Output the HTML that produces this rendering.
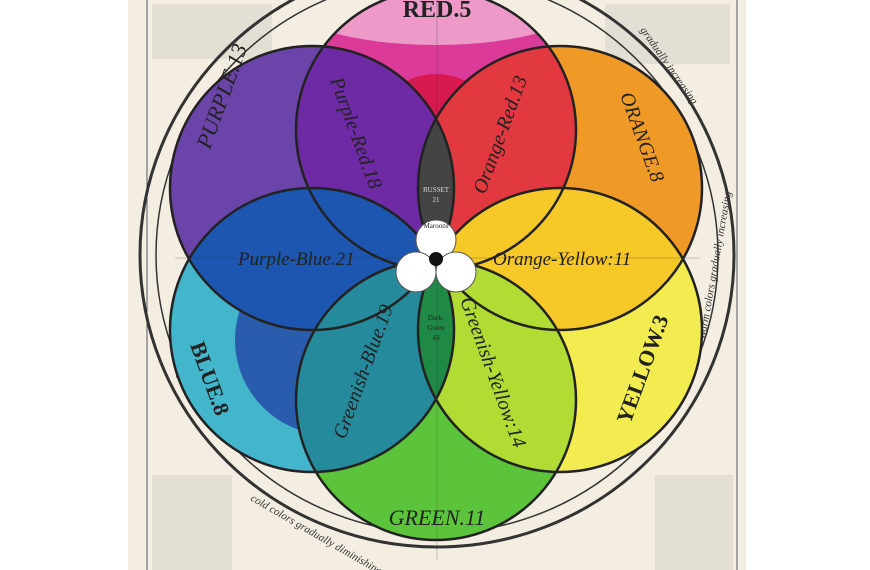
<!DOCTYPE html>
<html><head><meta charset="utf-8"><style>
html,body{margin:0;padding:0;background:#fff;}
svg{display:block}
text{font-family:"Liberation Serif",serif;}
</style></head><body>
<svg width="870" height="570" viewBox="0 0 870 570" xmlns="http://www.w3.org/2000/svg">
<defs>
<clipPath id="cR"><circle cx="436" cy="130" r="140"/></clipPath>
<clipPath id="cP"><circle cx="312" cy="188" r="142"/></clipPath>
<clipPath id="cO"><circle cx="560" cy="188" r="142"/></clipPath>
<clipPath id="cB"><circle cx="312" cy="330" r="142"/></clipPath>
<clipPath id="cY"><circle cx="560" cy="330" r="142"/></clipPath>
<clipPath id="cG"><circle cx="436" cy="400" r="140"/></clipPath>
</defs>
<rect x="128" y="0" width="618" height="570" fill="#f4eee2"/>
<line x1="147" y1="0" x2="147" y2="570" stroke="#556" stroke-width="1"/>
<line x1="737" y1="0" x2="737" y2="570" stroke="#556" stroke-width="1"/>
<g fill="#999">
<rect x="152" y="4" width="120" height="55" opacity="0.18"/>
<rect x="605" y="4" width="125" height="60" opacity="0.18"/>
<rect x="152" y="475" width="80" height="95" opacity="0.18"/>
<rect x="655" y="475" width="78" height="95" opacity="0.18"/>
</g>
<ellipse cx="437" cy="255" rx="297" ry="292" fill="none" stroke="#333" stroke-width="3"/>
<ellipse cx="437" cy="255" rx="281" ry="278" fill="none" stroke="#333" stroke-width="1.5"/>
<text x="180" y="380" font-size="11" font-style="italic" fill="#333" transform="rotate(-70 180 380)">cold colors gradually diminishing</text>
<text x="250" y="500" font-size="11" font-style="italic" fill="#333" transform="rotate(30 250 500)">cold colors gradually diminishing</text>
<text x="640" y="30" font-size="11" font-style="italic" fill="#333" transform="rotate(55 640 30)">gradually increasing</text>
<text x="705" y="340" font-size="11" font-style="italic" fill="#333" transform="rotate(-80 705 340)">Warm colors gradually increasing</text>
<circle cx="436" cy="130" r="140" fill="#dc3a98"/>
<ellipse cx="436" cy="0" rx="150" ry="45" fill="#ee9ac8" clip-path="url(#cR)"/>
<circle cx="436" cy="140" r="66" fill="#d81850" clip-path="url(#cR)"/>
<circle cx="312" cy="188" r="142" fill="#6a44a8"/>
<circle cx="560" cy="188" r="142" fill="#ef9a26"/>
<circle cx="312" cy="330" r="142" fill="#44b6cc"/>
<circle cx="330" cy="340" r="95" fill="#2a5cae" clip-path="url(#cB)"/>
<circle cx="560" cy="330" r="142" fill="#f3ec50"/>
<circle cx="436" cy="400" r="140" fill="#5cc43a"/>
<g clip-path="url(#cR)"><circle cx="312" cy="188" r="142" fill="#6e2aa4"/><circle cx="560" cy="188" r="142" fill="#e23840"/></g>
<g clip-path="url(#cP)"><circle cx="312" cy="330" r="142" fill="#1c56b0"/></g>
<g clip-path="url(#cB)"><circle cx="436" cy="400" r="140" fill="#248a9c"/></g>
<g clip-path="url(#cO)"><circle cx="560" cy="330" r="142" fill="#f6c828"/></g>
<g clip-path="url(#cY)"><circle cx="436" cy="400" r="140" fill="#b0dc34"/></g>
<g clip-path="url(#cO)"><circle cx="312" cy="330" r="142" fill="#e05a28"/></g>
<g clip-path="url(#cY)"><circle cx="312" cy="188" r="142" fill="#a89038"/></g>
<g clip-path="url(#cB)"><circle cx="560" cy="188" r="142" fill="#2a5a9a"/></g>
<g clip-path="url(#cP)"><circle cx="560" cy="188" r="142" fill="#444"/></g>
<g clip-path="url(#cB)"><circle cx="560" cy="330" r="142" fill="#1e8a46"/></g>
<g fill="none" stroke="#222" stroke-width="2.5">
<circle cx="436" cy="130" r="140"/><circle cx="312" cy="188" r="142"/><circle cx="560" cy="188" r="142"/>
<circle cx="312" cy="330" r="142"/><circle cx="560" cy="330" r="142"/><circle cx="436" cy="400" r="140"/>
</g>
<line x1="437" y1="0" x2="437" y2="560" stroke="#333" stroke-width="0.5" opacity="0.5"/>
<line x1="175" y1="258" x2="700" y2="258" stroke="#333" stroke-width="0.5" opacity="0.5"/>
<g fill="#fff" stroke="#555" stroke-width="1">
<circle cx="436" cy="240" r="20"/><circle cx="416" cy="272" r="20"/><circle cx="456" cy="272" r="20"/>
</g>
<circle cx="436" cy="259" r="7" fill="#111"/>
<g fill="#222" font-style="italic">
<text x="437" y="17" font-size="24" font-style="normal" font-weight="bold" text-anchor="middle">RED.5</text>
<text x="210" y="150" font-size="22" transform="rotate(-70 210 150)">PURPLE.13</text>
<text x="330" y="80" font-size="20" transform="rotate(70 330 80)">Purple-Red.18</text>
<text x="485" y="195" font-size="20" transform="rotate(-70 485 195)">Orange-Red.13</text>
<text x="620" y="95" font-size="20" transform="rotate(70 620 95)">ORANGE.8</text>
<text x="238" y="265" font-size="19">Purple-Blue.21</text>
<text x="493" y="265" font-size="19">Orange-Yellow:11</text>
<text x="190" y="345" font-size="22" font-weight="bold" font-style="normal" transform="rotate(70 190 345)">BLUE.8</text>
<text x="345" y="440" font-size="20" transform="rotate(-70 345 440)">Greenish-Blue.19</text>
<text x="460" y="300" font-size="20" transform="rotate(70 460 300)">Greenish-Yellow:14</text>
<text x="630" y="425" font-size="22" font-weight="bold" font-style="normal" transform="rotate(-70 630 425)">YELLOW.3</text>
<text x="437" y="525" font-size="22" text-anchor="middle">GREEN.11</text>
</g>
<g fill="#ddd" font-size="7" text-anchor="middle">
<text x="436" y="192" font-family="Liberation Mono,monospace">RUSSET</text>
<text x="436" y="202" font-family="Liberation Mono,monospace">21</text>
</g>
<g fill="#222" font-size="7" text-anchor="middle">
<text x="436" y="320" font-family="Liberation Mono,monospace">Dark-</text>
<text x="436" y="330" font-family="Liberation Mono,monospace">Green</text>
<text x="436" y="340" font-family="Liberation Mono,monospace">43</text>
<text x="436" y="228" font-family="Liberation Mono,monospace">Maroons</text>
</g>
</svg>
</body></html>
